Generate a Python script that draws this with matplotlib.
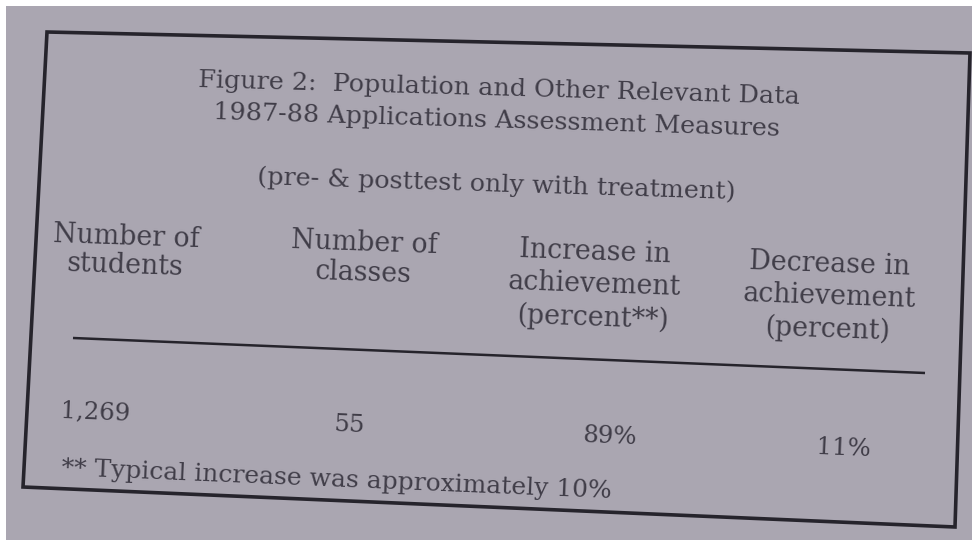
import matplotlib.pyplot as plt
from matplotlib.patches import Polygon, Rectangle

# table content
title_lines = ["Figure 2:  Population and Other Relevant Data",
               "1987-88 Applications Assessment Measures"]
subtitle = "(pre- & posttest only with treatment)"
headers = [["Number of", "students"],
           ["Number of", "classes"],
           ["Increase in", "achievement", "(percent**)"],
           ["Decrease in", "achievement", "(percent)"]]
n_students = 1269
n_classes = 55
increase_pct = 89
decrease_pct = 11
footnote = "** Typical increase was approximately 10%"

values = [f"{n_students:,}", f"{n_classes}", f"{increase_pct}%", f"{decrease_pct}%"]

# layout (pixel coords of the photographed page)
W, H = 973, 546
paper = "#aaa6b1"
ink = "#403d48"
line_ink = "#26242c"
FONT = "DejaVu Serif"

fig = plt.figure(figsize=(W / 100, H / 100), dpi=100, facecolor="white")
ax = fig.add_axes([0, 0, 1, 1])
ax.set_xlim(0, W)
ax.set_ylim(H, 0)
ax.axis("off")

ax.add_patch(Rectangle((6, 6), W - 7, H - 12, facecolor=paper, edgecolor="none"))
# the box is a bit skewed in the photo
ax.add_patch(Polygon([(47, 32), (970, 53), (955, 527), (23, 487)], closed=True,
                     fill=False, edgecolor=line_ink, linewidth=2.6, joinstyle="miter"))
# rule under the headers
ax.plot([73, 925], [338, 373], color=line_ink, linewidth=1.8, solid_capstyle="butt")

renderer = fig.canvas.get_renderer()


def put(s, x, y, size, angle):
    return ax.text(x, y, s, fontsize=size, family=FONT, color=ink, ha="center", va="center",
                   rotation=-angle, rotation_mode="anchor")


def size_for(s, width):
    t = ax.text(0, 0, s, fontsize=20, family=FONT)
    w = t.get_window_extent(renderer).width
    t.remove()
    return 20 * width / w


title_size = size_for(title_lines[0], 600)
put(title_lines[0], 499, 89, title_size, 1.6)
put(title_lines[1], 497, 121, title_size, 1.7)
put(subtitle, 496, 185, title_size, 1.8)

head_size = size_for("achievement", 172)
col_x = [126, 364, 595, 830]
col_top = [237, 243, 252, 264]
col_step = [29, 30, 33, 33]
for i, lines in enumerate(headers):
    for j, s in enumerate(lines):
        put(s, col_x[i] - j * 1.0, col_top[i] + j * col_step[i], head_size, 2.0)

val_size = size_for("89%", 54)
val_x = [95, 350, 610, 843]
val_y = [413, 425, 437, 449]
for s, x, y in zip(values, val_x, val_y):
    put(s, x, y, val_size, 2.4)

foot_size = size_for(footnote, 549)
put(footnote, 337, 480, foot_size, 2.4)

fig.savefig("out.png", dpi=100, facecolor="white")
